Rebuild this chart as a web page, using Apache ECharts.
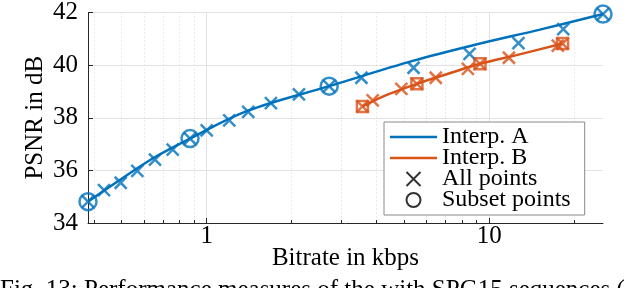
<!DOCTYPE html>
<html><head><meta charset="utf-8">
<script src="https://cdn.jsdelivr.net/npm/echarts@6/dist/echarts.min.js"></script>
<style>html,body{margin:0;padding:0;background:#fff}#c{width:640px;height:288px}</style>
</head><body><div id="c"></div>
<script>
// ---- data ----
const xMin = 0.38, xMax = 25.3;
const xTicksMajor = [1, 10];
const xTicksMinor = [0.4, 0.5, 0.6, 0.7, 0.8, 0.9, 2, 3, 4, 5, 6, 7, 8, 9, 20];
const yMin = 34, yMax = 42, yStep = 2;
const interpA = [[0.38,34.81],[0.5,35.68],[0.65,36.48],[0.873,37.21],[1.4,38.27],[2.714,39.2],[5.4,40.17],[9.3,40.82],[15,41.34],[25.3,41.94]];
const interpB = [[3.56,38.43],[4.3,38.85],[5.55,39.29],[7.2,39.68],[9.28,40.05],[12.5,40.38],[18.2,40.82]];
const allA = [[0.38,34.81],[0.433,35.25],[0.496,35.53],[0.568,35.98],[0.656,36.41],[0.758,36.79],[0.873,37.21],[1.0,37.52],[1.202,37.90],[1.403,38.22],[1.688,38.56],[2.121,38.89],[2.714,39.20],[3.53,39.52],[5.40,39.90],[8.52,40.43],[12.7,40.84],[18.3,41.37],[25.3,41.94]];
const subsetA = [[0.38,34.81],[0.873,37.21],[2.714,39.20],[25.3,41.94]];
const allB = [[3.56,38.43],[3.87,38.66],[4.89,39.10],[5.55,39.29],[6.47,39.52],[8.41,39.86],[9.28,40.05],[11.75,40.28],[17.5,40.74],[18.2,40.82]];
const subsetB = [[3.56,38.43],[5.55,39.29],[9.28,40.05],[18.2,40.82]];
const legendNames = ['Interp. A', 'Interp. B', 'All points', 'Subset points'];
const xTitle = 'Bitrate in kbps';
const yTitle = 'PSNR in dB';
const caption = 'Fig. 13: Performance measures of the with SPG15 sequences (';

// ---- style ----
const FONT = 'Liberation Serif';
const BLUE = '#0072BD', ORANGE = '#D95319';
const XPATH = 'path://M0,0L10,10M10,0L0,10';
const SQPATH = 'path://M0,0L10,0L10,10L0,10Z';
const LINEICON = 'path://M0,0L47,0L47,2.5L0,2.5Z';

const chart = echarts.init(document.getElementById('c'), null, {renderer: 'canvas'});
const baseX = {type: 'log', min: xMin, max: xMax, logBase: 10, position: 'bottom'};
chart.setOption({
  animation: false,
  backgroundColor: '#fff',
  grid: {left: 88, right: 37, top: 12, bottom: 65},
  xAxis: [
    Object.assign({}, baseX, {
      name: xTitle, nameLocation: 'middle', nameGap: 23, nameMoveOverlap: false,
      nameTextStyle: {fontFamily: FONT, fontSize: 25, color: '#000'},
      axisLine: {show: true, lineStyle: {color: '#262626', width: 1}},
      axisTick: {show: true, inside: true, length: 5, customValues: xTicksMajor, lineStyle: {color: '#262626'}},
      axisLabel: {show: true, customValues: xTicksMajor, margin: 1, fontFamily: FONT, fontSize: 25, color: '#000'},
      splitLine: {show: true, lineStyle: {color: '#e3e3e3', width: 1}},
      minorTick: {show: false}, minorSplitLine: {show: false}
    }),
    Object.assign({}, baseX, {
      axisLine: {show: false},
      axisTick: {show: true, inside: true, length: 3, customValues: xTicksMinor, lineStyle: {color: '#262626'}},
      axisLabel: {show: false},
      splitLine: {show: true, lineStyle: {color: '#d6d6d6', width: 1, type: [1, 3]}}
    })
  ],
  yAxis: {
    type: 'value', min: yMin, max: yMax, interval: yStep,
    name: yTitle, nameLocation: 'middle', nameGap: 40, nameMoveOverlap: false,
    nameTextStyle: {fontFamily: FONT, fontSize: 25, color: '#000'},
    axisLine: {show: true, lineStyle: {color: '#262626', width: 1}},
    axisTick: {show: true, inside: true, length: 5, lineStyle: {color: '#262626'}},
    axisLabel: {margin: 10, fontFamily: FONT, fontSize: 25, color: '#000'},
    splitLine: {show: true, lineStyle: {color: '#e3e3e3', width: 1}}
  },
  legend: {
    orient: 'vertical', left: 384, top: 122,
    padding: [3, 14, 3, 6], itemGap: -3, itemWidth: 47, itemHeight: 14,
    backgroundColor: '#fff', borderColor: '#8a8a8a', borderWidth: 1,
    textStyle: {fontFamily: FONT, fontSize: 24, color: '#000'},
    data: [
      {name: legendNames[0], icon: LINEICON},
      {name: legendNames[1], icon: LINEICON},
      {name: legendNames[2]},
      {name: legendNames[3]}
    ]
  },
  graphic: [{
    type: 'text', left: 0, top: 278,
    style: {text: caption, fontFamily: FONT, fontSize: 25, fill: '#000'}
  }],
  series: [
    {name: legendNames[0], type: 'line', data: interpA, smooth: 0.35, symbol: 'none', clip: false,
     lineStyle: {color: BLUE, width: 2.5}, itemStyle: {color: BLUE}, z: 2},
    {name: legendNames[1], type: 'line', data: interpB, smooth: 0.35, symbol: 'none', clip: false,
     lineStyle: {color: ORANGE, width: 2.5}, itemStyle: {color: ORANGE}, z: 2},
    {name: legendNames[2], type: 'scatter', data: [], symbol: XPATH, symbolSize: 12,
     itemStyle: {color: 'rgba(0,0,0,0)', borderColor: '#000', borderWidth: 3}},
    {name: legendNames[3], type: 'scatter', data: [], symbol: 'circle', symbolSize: 12,
     itemStyle: {color: 'rgba(0,0,0,0)', borderColor: '#000', borderWidth: 3}},
    {name: 'A subset', type: 'scatter', data: subsetA, symbol: 'circle', symbolSize: 17, clip: false,
     itemStyle: {color: 'rgba(0,0,0,0)', borderColor: BLUE, borderWidth: 2.5}, z: 3},
    {name: 'B subset', type: 'scatter', data: subsetB, symbol: SQPATH, symbolSize: 11, clip: false,
     itemStyle: {color: 'rgba(0,0,0,0)', borderColor: ORANGE, borderWidth: 2.5}, z: 3},
    {name: 'A all', type: 'scatter', data: allA, symbol: XPATH, symbolSize: 12, clip: false,
     itemStyle: {color: 'rgba(0,0,0,0)', borderColor: BLUE, borderWidth: 2.5}, z: 4},
    {name: 'B all', type: 'scatter', data: allB, symbol: XPATH, symbolSize: 12, clip: false,
     itemStyle: {color: 'rgba(0,0,0,0)', borderColor: ORANGE, borderWidth: 2.5}, z: 4}
  ]
});
</script>
</body></html>
